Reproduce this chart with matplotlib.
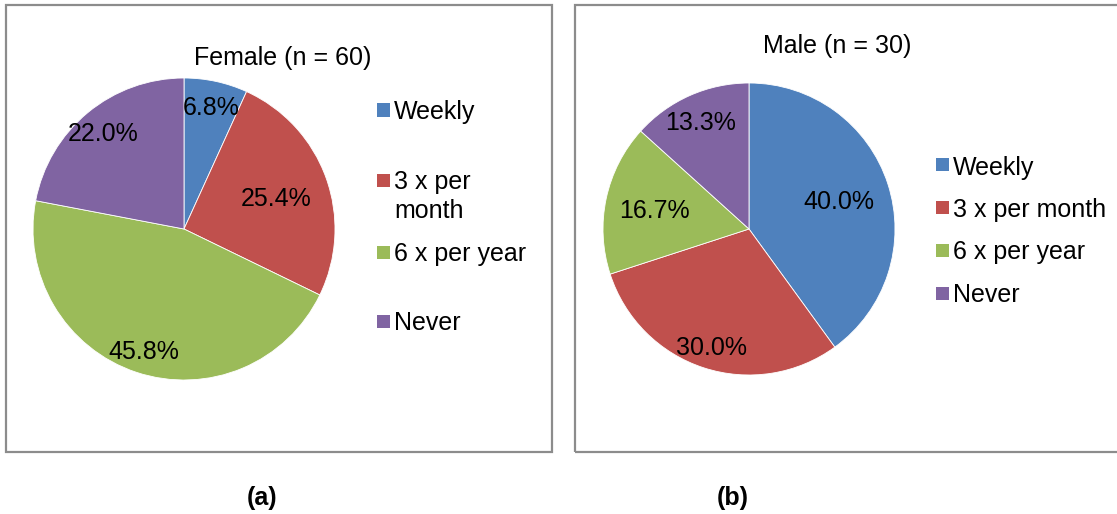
import numpy as np
import matplotlib.pyplot as plt
from matplotlib.patches import Rectangle

plt.rcParams['font.family'] = ['Liberation Sans', 'DejaVu Sans']

categories = ['Weekly', '3 x per month', '6 x per year', 'Never']
female_pct = [6.8, 25.4, 45.8, 22.0]
male_pct = [40.0, 30.0, 16.7, 13.3]
female_labels = ['Weekly', '3 x per\nmonth', '6 x per year', 'Never']
male_labels = categories
colors = ['#4F81BD', '#C0504D', '#9BBB59', '#8064A2']

W, H = 1117, 514
fig = plt.figure(figsize=(W / 100, H / 100), dpi=100)


def px(x, y):
    return x / W, 1 - y / H


def panel(box, cx, cy, r, vals, lab_r, title, tpos, labels, leg_x, leg_y):
    # outer frame
    x0, y0, x1, y1 = box
    fig.add_artist(Rectangle(px(x0, y1), (x1 - x0) / W, (y1 - y0) / H,
                             transform=fig.transFigure, fill=False,
                             edgecolor='#8c8c8c', lw=1.6))
    ax = fig.add_axes([(cx - r) / W, (H - cy - r) / H, 2 * r / W, 2 * r / H])
    wedges, _ = ax.pie(vals, colors=colors, startangle=90, counterclock=False,
                       wedgeprops=dict(edgecolor='white', linewidth=0.6))
    ax.set_xlim(-1, 1)
    ax.set_ylim(-1, 1)
    ax.set_aspect('equal')
    for w, v, rr in zip(wedges, vals, lab_r):
        mid = np.deg2rad((w.theta1 + w.theta2) / 2)
        ax.text(rr * np.cos(mid), rr * np.sin(mid), f'{v:.1f}%', fontsize=18,
                ha='center', va='center_baseline')
    fig.text(*px(*tpos), title, fontsize=18, ha='center', va='center_baseline')
    # legend
    for lab, c, y in zip(labels, colors, leg_y):
        fig.add_artist(Rectangle(px(leg_x, y + 6.5), 13 / W, 13 / H,
                                 transform=fig.transFigure, color=c, lw=0))
        for k, line in enumerate(lab.split('\n')):
            fig.text(*px(leg_x + 17, y + 28 * k), line, fontsize=18,
                     ha='left', va='center_baseline')


panel((6, 5, 552, 452), 184, 229, 151, female_pct, [0.84, 0.645, 0.84, 0.84],
      'Female (n = 60)', (283, 55), female_labels, 377, [110, 180, 252, 321])
panel((575, 5, 1125, 452), 749, 229, 146, male_pct, [0.645, 0.84, 0.66, 0.81],
      'Male (n = 30)', (837, 43), male_labels, 936, [165, 207, 250, 293])

fig.text(*px(262, 495), '(a)', fontsize=18, fontweight='bold', ha='center', va='center_baseline')
fig.text(*px(733, 495), '(b)', fontsize=18, fontweight='bold', ha='center', va='center_baseline')

fig.savefig('out.png', dpi=100)
